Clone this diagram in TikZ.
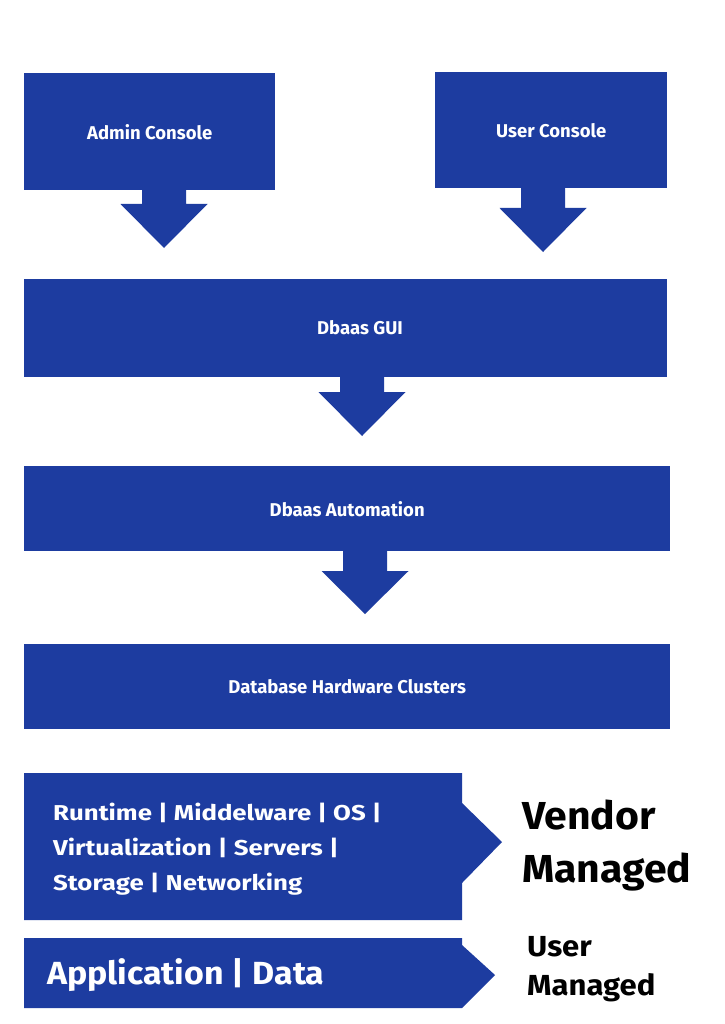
\documentclass[tikz,border=0pt]{standalone}
\usepackage{fontspec}
\setmainfont{Fira Sans}
\usetikzlibrary{calc}
\definecolor{blk}{RGB}{29,60,160}
\newcommand\blockarrow[4]{%
  \fill[blk] ({#1-22},{#2-2}) -- ({#1+22},{#2-2}) -- ({#1+22},#3) -- ({#1+43.5},#3)
    -- (#1,#4) -- ({#1-43.5},#3) -- ({#1-22},#3) -- cycle;}
\newcommand\wide[1]{\scalebox{1.2}[1]{#1}}
\tikzset{
  box/.style={fill=blk, draw=none, inner sep=0pt, anchor=north west, text=white,
    font=\bfseries\fontsize{18.5}{22}\selectfont},
  lbl/.style={text=white, inner sep=0pt, font=\bfseries\fontsize{18.5}{22}\selectfont},
  layer/.style={text=white, inner sep=0pt, anchor=base west, font=\bfseries\fontsize{21.5}{25}\selectfont},
  side/.style={text=black, inner sep=0pt, anchor=base west},
}
\begin{document}
\begin{tikzpicture}[x=1pt,y=-1pt]
\useasboundingbox[fill=white] (0,0) rectangle (724,1024);
% boxes
\node[box, minimum width=251pt, minimum height=117pt] (admin) at (24,73) {Admin Console};
\node[box, minimum width=232pt, minimum height=116pt] (user) at (435,72) {User Console};
\node[box, minimum width=643pt, minimum height=98pt] (gui) at (24,279) {};
\node[lbl] (guitext) at (360,328) {Dbaas GUI};
\node[box, minimum width=646pt, minimum height=85pt] (auto) at (24,466) {Dbaas Automation};
\node[box, minimum width=646pt, minimum height=85pt] (dhc) at (24,644) {Database Hardware Clusters};
% block arrows
\blockarrow{164}{190}{204}{248}
\blockarrow{543}{188}{208}{252}
\blockarrow{362}{377}{392}{436}
\blockarrow{365}{551}{571}{614}
% vendor managed pentagon
\fill[blk] (24,773) -- (462,773) -- (462,803) -- (502,842) -- (462,883) -- (462,920) -- (24,920) -- cycle;
\node[layer] (l1) at (53,820) {\wide{Runtime | Middelware | OS |}};
\node[layer] (l2) at (53,855) {\wide{Virtualization | Servers |}};
\node[layer] (l3) at (53,890) {\wide{Storage | Networking}};
% user managed pentagon
\fill[blk] (24,938) -- (462,938) -- (462,945) -- (495,975) -- (462,1008) -- (24,1008) -- cycle;
\node[layer, font=\bfseries\fontsize{32}{38}\selectfont] (app) at (47,984) {\scalebox{1.06}[1]{Application | Data}};
% side labels
\node[side, font=\bfseries\fontsize{39}{45}\selectfont] (v1) at (522,829) {\scalebox{1.05}[1]{Vendor}};
\node[side, font=\bfseries\fontsize{39}{45}\selectfont] (v2) at (522,882) {\scalebox{1.05}[1]{Managed}};
\node[side, font=\bfseries\fontsize{29}{33}\selectfont] (u1) at (527,956) {\scalebox{1.07}[1]{User}};
\node[side, font=\bfseries\fontsize{29}{33}\selectfont] (u2) at (527,995) {\scalebox{1.07}[1]{Managed}};
\end{tikzpicture}
\end{document}
